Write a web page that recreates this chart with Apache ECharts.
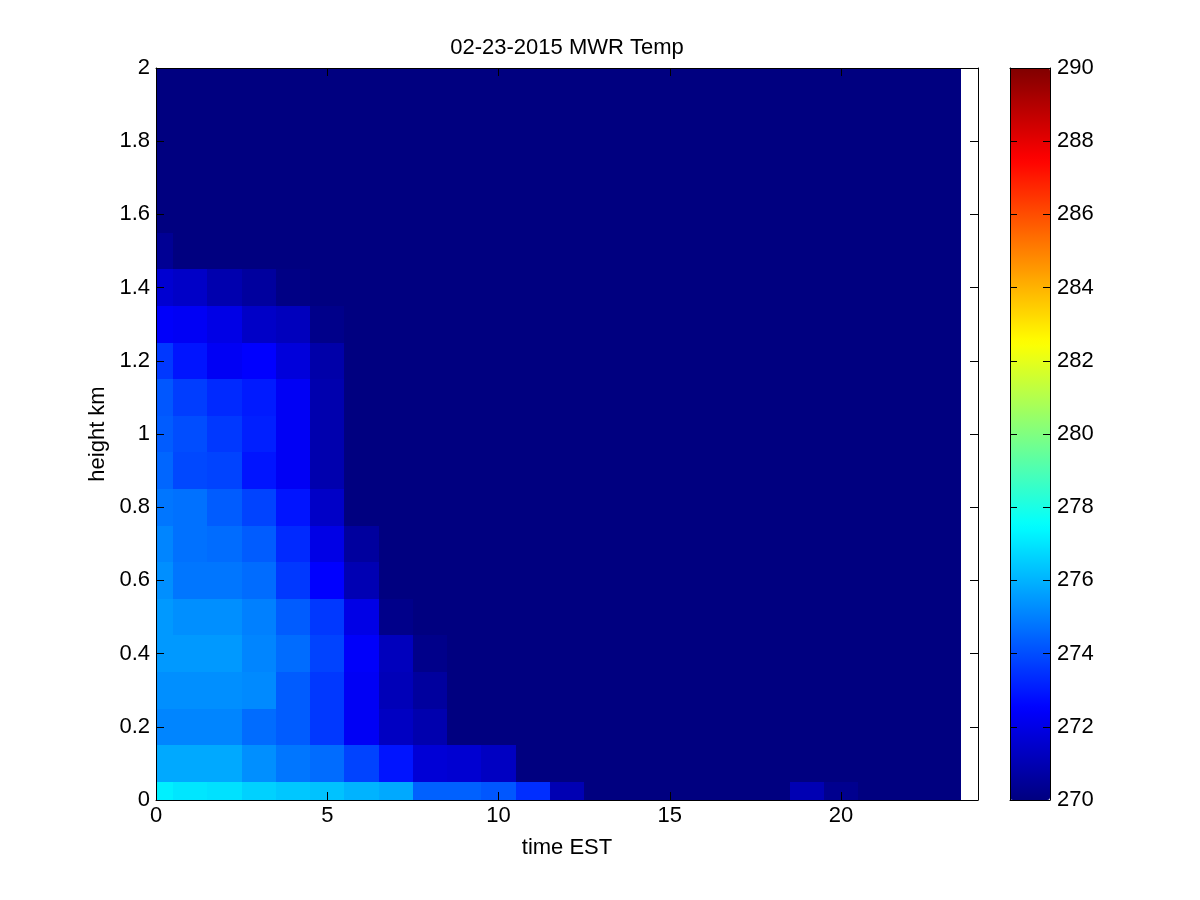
<!DOCTYPE html>
<html>
<head>
<meta charset="utf-8">
<title>02-23-2015 MWR Temp</title>
<script src="https://cdn.jsdelivr.net/npm/echarts@6/dist/echarts.min.js"></script>
<style>
  html, body { margin: 0; padding: 0; background: #fff; }
  #chart { width: 1200px; height: 900px; }
</style>
</head>
<body>
<div id="chart"></div>
<script>
// hours (EST) of each column, heights (km) of each row
var hours = [0, 1, 2, 3, 4, 5, 6, 7, 8, 9, 10, 11, 12, 13, 14, 15, 16, 17, 18, 19, 20, 21, 22, 23];
var heights = [0, 0.1, 0.2, 0.3, 0.4, 0.5, 0.6, 0.7, 0.8, 0.9, 1.0, 1.1, 1.2, 1.3, 1.4, 1.5, 1.6, 1.7, 1.8, 1.9, 2.0];

// temperature (K), one array per height level
var temp_h00 = [277.2, 277.0, 276.9, 276.6, 276.4, 276.3, 276.0, 275.8, 274.4, 274.4, 274.2, 273.4, 271.0, 270, 270, 270, 270, 270, 270, 271.0, 270.3, 270, 270, 270];
var temp_h01 = [275.8, 275.8, 275.8, 275.3, 274.8, 274.6, 273.8, 272.9, 271.7, 271.6, 271.3, 270, 270, 270, 270, 270, 270, 270, 270, 270, 270, 270, 270, 270];
var temp_h02 = [275.1, 275.1, 275.1, 274.6, 274.3, 273.6, 272.3, 271.3, 270.9, 270, 270, 270, 270, 270, 270, 270, 270, 270, 270, 270, 270, 270, 270, 270];
var temp_h03 = [275.3, 275.3, 275.3, 275.2, 274.3, 273.6, 272.3, 271.1, 270.6, 270, 270, 270, 270, 270, 270, 270, 270, 270, 270, 270, 270, 270, 270, 270];
var temp_h04 = [275.5, 275.5, 275.5, 275.1, 274.6, 273.8, 272.4, 271.2, 270.2, 270, 270, 270, 270, 270, 270, 270, 270, 270, 270, 270, 270, 270, 270, 270];
var temp_h05 = [275.5, 275.3, 275.3, 275.0, 274.3, 273.6, 272.0, 270.2, 270, 270, 270, 270, 270, 270, 270, 270, 270, 270, 270, 270, 270, 270, 270, 270];
var temp_h06 = [275.3, 274.8, 274.8, 274.6, 273.6, 272.5, 271.0, 270, 270, 270, 270, 270, 270, 270, 270, 270, 270, 270, 270, 270, 270, 270, 270, 270];
var temp_h07 = [275.1, 274.7, 274.6, 274.3, 273.3, 272.0, 270.6, 270, 270, 270, 270, 270, 270, 270, 270, 270, 270, 270, 270, 270, 270, 270, 270, 270];
var temp_h08 = [274.8, 274.7, 274.3, 273.8, 272.9, 271.4, 270, 270, 270, 270, 270, 270, 270, 270, 270, 270, 270, 270, 270, 270, 270, 270, 270, 270];
var temp_h09 = [274.5, 273.9, 273.8, 272.9, 272.3, 270.9, 270, 270, 270, 270, 270, 270, 270, 270, 270, 270, 270, 270, 270, 270, 270, 270, 270, 270];
var temp_h10 = [274.3, 274.0, 273.6, 273.1, 272.3, 270.9, 270, 270, 270, 270, 270, 270, 270, 270, 270, 270, 270, 270, 270, 270, 270, 270, 270, 270];
var temp_h11 = [274.2, 273.7, 273.3, 273.0, 272.3, 270.9, 270, 270, 270, 270, 270, 270, 270, 270, 270, 270, 270, 270, 270, 270, 270, 270, 270, 270];
var temp_h12 = [273.6, 272.9, 272.3, 272.5, 271.8, 270.8, 270, 270, 270, 270, 270, 270, 270, 270, 270, 270, 270, 270, 270, 270, 270, 270, 270, 270];
var temp_h13 = [272.4, 272.3, 272.0, 271.4, 271.2, 270.2, 270, 270, 270, 270, 270, 270, 270, 270, 270, 270, 270, 270, 270, 270, 270, 270, 270, 270];
var temp_h14 = [271.6, 271.4, 270.9, 270.6, 270.1, 270, 270, 270, 270, 270, 270, 270, 270, 270, 270, 270, 270, 270, 270, 270, 270, 270, 270, 270];
var temp_h15 = [270.4, 270, 270, 270, 270, 270, 270, 270, 270, 270, 270, 270, 270, 270, 270, 270, 270, 270, 270, 270, 270, 270, 270, 270];
var temp_h16 = [270, 270, 270, 270, 270, 270, 270, 270, 270, 270, 270, 270, 270, 270, 270, 270, 270, 270, 270, 270, 270, 270, 270, 270];
var temp_h17 = [270, 270, 270, 270, 270, 270, 270, 270, 270, 270, 270, 270, 270, 270, 270, 270, 270, 270, 270, 270, 270, 270, 270, 270];
var temp_h18 = [270, 270, 270, 270, 270, 270, 270, 270, 270, 270, 270, 270, 270, 270, 270, 270, 270, 270, 270, 270, 270, 270, 270, 270];
var temp_h19 = [270, 270, 270, 270, 270, 270, 270, 270, 270, 270, 270, 270, 270, 270, 270, 270, 270, 270, 270, 270, 270, 270, 270, 270];
var temp_h20 = [270, 270, 270, 270, 270, 270, 270, 270, 270, 270, 270, 270, 270, 270, 270, 270, 270, 270, 270, 270, 270, 270, 270, 270];

var tempRows = [temp_h00, temp_h01, temp_h02, temp_h03, temp_h04, temp_h05, temp_h06,
    temp_h07, temp_h08, temp_h09, temp_h10, temp_h11, temp_h12, temp_h13, temp_h14,
    temp_h15, temp_h16, temp_h17, temp_h18, temp_h19, temp_h20];

// colour limits and jet colormap
var cMin = 270, cMax = 290;
var jet = ['#000080', '#0000ff', '#0080ff', '#00ffff', '#80ff80', '#ffff00', '#ff8000', '#ff0000', '#800000'];

var cells = [];
for (var i = 0; i < heights.length; i++) {
    for (var j = 0; j < hours.length; j++) {
        cells.push([hours[j], heights[i], tempRows[i][j]]);
    }
}

var FONT = 'Liberation Sans';
var fs = 22;

var boxAxis = function (extra) {
    var a = {
        axisLine: { show: true, onZero: false, lineStyle: { color: '#000', width: 1 } },
        axisTick: { show: true, inside: true, length: 8, lineStyle: { color: '#000' } },
        axisLabel: { show: false },
        splitLine: { show: false },
        z: 10
    };
    for (var k in extra) a[k] = extra[k];
    return a;
};

var chart = echarts.init(document.getElementById('chart'));
chart.setOption({
    backgroundColor: '#fff',
    animation: false,
    title: {
        text: '02-23-2015 MWR Temp',
        left: 562,
        textAlign: 'center',
        top: 32,
        textStyle: { fontFamily: FONT, fontSize: fs, fontWeight: 'normal', color: '#000' }
    },
    grid: [
        { left: 156, top: 68, width: 822, height: 732 },
        { left: 1010, top: 68, width: 40, height: 732 }
    ],
    xAxis: [
        boxAxis({
            gridIndex: 0, type: 'value', position: 'bottom', min: 0, max: 24, interval: 5,
            name: 'time EST', nameLocation: 'middle', nameGap: 37,
            nameTextStyle: { fontFamily: FONT, fontSize: fs, color: '#000' },
            axisLabel: { show: true, showMaxLabel: false, margin: 5, fontFamily: FONT, fontSize: fs, color: '#000' }
        }),
        boxAxis({ gridIndex: 0, type: 'value', position: 'top', min: 0, max: 24, interval: 5 }),
        boxAxis({ gridIndex: 1, type: 'value', position: 'bottom', min: 0, max: 1, axisTick: { show: false } }),
        boxAxis({ gridIndex: 1, type: 'value', position: 'top', min: 0, max: 1, axisTick: { show: false } })
    ],
    yAxis: [
        boxAxis({
            gridIndex: 0, type: 'value', position: 'left', min: 0, max: 2, interval: 0.2,
            name: 'height km', nameLocation: 'middle', nameGap: 46,
            nameTextStyle: { fontFamily: FONT, fontSize: fs, color: '#000' },
            axisLabel: { show: true, margin: 6, fontFamily: FONT, fontSize: fs, color: '#000' }
        }),
        boxAxis({ gridIndex: 0, type: 'value', position: 'right', min: 0, max: 2, interval: 0.2 }),
        boxAxis({
            gridIndex: 1, type: 'value', position: 'right', min: cMin, max: cMax, interval: 2,
            axisTick: { show: true, inside: true, length: 7, lineStyle: { color: '#000' } },
            axisLabel: { show: true, margin: 7, fontFamily: FONT, fontSize: fs, color: '#000' }
        }),
        boxAxis({
            gridIndex: 1, type: 'value', position: 'left', min: cMin, max: cMax, interval: 2,
            axisTick: { show: true, inside: true, length: 7, lineStyle: { color: '#000' } }
        })
    ],
    visualMap: {
        type: 'continuous',
        min: cMin,
        max: cMax,
        dimension: 2,
        seriesIndex: 0,
        calculable: false,
        hoverLink: false,
        orient: 'vertical',
        left: 1010,
        top: 68,
        padding: 0,
        itemWidth: 40,
        itemHeight: 732,
        text: null,
        inRange: { color: jet }
    },
    series: [
        {
            type: 'custom',
            xAxisIndex: 0,
            yAxisIndex: 0,
            clip: true,
            encode: { x: 0, y: 1 },
            data: cells,
            renderItem: function (params, api) {
                var t = api.value(0), h = api.value(1);
                var p0 = api.coord([Math.max(t - 0.5, 0), Math.min(h + 0.05, 2)]);
                var p1 = api.coord([t + 0.5, Math.max(h - 0.05, 0)]);
                var x0 = Math.round(p0[0]), y0 = Math.round(p0[1]);
                var x1 = Math.round(p1[0]), y1 = Math.round(p1[1]);
                return {
                    type: 'rect',
                    shape: { x: x0, y: y0, width: x1 - x0, height: y1 - y0 },
                    style: { fill: api.visual('color') }
                };
            }
        }
    ]
});
</script>
</body>
</html>
